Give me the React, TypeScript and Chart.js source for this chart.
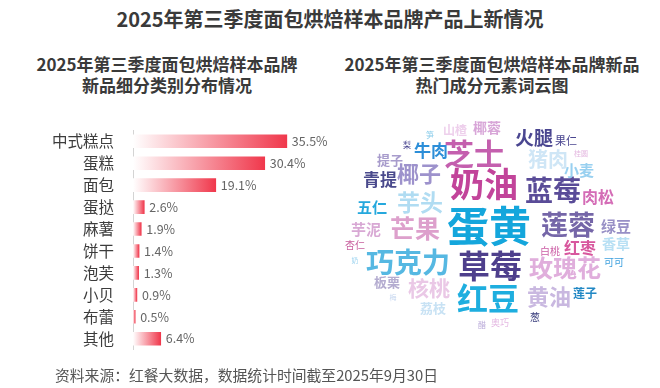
import React, { useEffect, useRef } from "react";
import { Chart, registerables } from "chart.js";
Chart.register(...registerables);

const FONT = '"Noto Sans CJK SC", "Noto Sans", sans-serif';

// Left chart data
const categories = ["中式糕点", "蛋糕", "面包", "蛋挞", "麻薯", "饼干", "泡芙", "小贝", "布蕾", "其他"];
const shares = [35.5, 30.4, 19.1, 2.6, 1.9, 1.4, 1.3, 0.9, 0.5, 6.4];

// Word cloud data (word, position, weight = font size)
const cloudWords = ["蛋黄", "奶油", "芝士", "草莓", "红豆", "蓝莓", "莲蓉", "玫瑰花", "黄油", "巧克力", "芒果", "芋头", "椰子", "牛肉", "火腿", "猪肉", "青提", "提子", "五仁", "芋泥", "杏仁", "奶", "板栗", "核桃", "梅", "荔枝", "山楂", "笋", "梨", "椰蓉", "果仁", "桂圆", "小麦", "肉松", "绿豆", "香草", "可可", "红枣", "白桃", "莲子", "葱", "奥巧", "醋"];
const cloudX = [489, 484, 474, 490, 488, 553, 568, 565, 549, 408, 415, 420, 419, 431, 534, 548, 380, 390, 372, 366, 355, 355, 387, 429, 393, 433, 455, 430, 407, 487, 566, 581, 579, 598, 616, 616, 614, 580, 550, 585, 535, 500, 482];
const cloudY = [226, 184, 154, 266, 298, 190, 225, 268, 297, 262, 228, 202, 174, 151, 138, 159, 180, 160, 207, 229, 245, 260, 282, 288, 297, 308, 130, 135, 145, 128, 141, 153, 170, 197, 226, 244, 262, 248, 251, 293, 317, 323, 325];
const cloudWeight = [42, 34, 30, 32, 31, 28, 27, 24, 22, 28, 25, 23, 22, 17, 19, 20, 17, 13, 15, 15, 10, 7, 13, 21, 7, 13, 12, 8, 8, 14, 11, 7, 15, 16, 15, 14, 10, 16, 10, 12, 10, 9, 8];
const cloudPalette = ["#14A6DC", "#C2449A", "#C45FAE", "#4E3F8C", "#1EAEDF", "#5A4C98", "#7566A8", "#E0AEDC", "#C9B8E0", "#56B8E2", "#DDA0CC", "#B0DCF2", "#9D92CC", "#2C8ED8", "#4A4690", "#CFE6F6", "#4A4A8C", "#A89CCC", "#25A8DD", "#D8A8D4", "#C8609E", "#9ED4F0", "#B4ACD0", "#EAC8E6", "#C8D8F0", "#C8E2F4", "#EED0EC", "#8CCDEB", "#4A4690", "#D8A6D8", "#4A4690", "#E4B8E0", "#98D0F0", "#D46CB6", "#9890C6", "#B8E0F4", "#3DA0DE", "#D8589E", "#CC5EA6", "#2288C4", "#383C7C", "#E4B8E2", "#B8A8D8"];

const barLabelPlugin = {
  id: "barLabels",
  afterDatasetsDraw(chart: any) {
    const { ctx } = chart;
    const meta = chart.getDatasetMeta(0);
    ctx.save();
    ctx.font = `12.5px ${FONT}`;
    ctx.fillStyle = "#666";
    ctx.textBaseline = "middle";
    ctx.textAlign = "left";
    meta.data.forEach((el: any, i: number) => {
      ctx.fillText(`${shares[i]}%`, el.x + 5, el.y);
    });
    ctx.restore();
  },
};

const cloudPlugin = {
  id: "cloudWords",
  afterDatasetsDraw(chart: any) {
    const { ctx } = chart;
    const meta = chart.getDatasetMeta(0);
    ctx.save();
    ctx.textBaseline = "middle";
    ctx.textAlign = "center";
    meta.data.forEach((el: any, i: number) => {
      const size = cloudWeight[i];
      ctx.font = `${size >= 12 ? "bold" : "normal"} ${size}px ${FONT}`;
      ctx.fillStyle = cloudPalette[i];
      ctx.fillText(cloudWords[i], el.x, el.y);
    });
    ctx.restore();
  },
};

export default function App() {
  const barRef = useRef<HTMLCanvasElement>(null);
  const cloudRef = useRef<HTMLCanvasElement>(null);

  useEffect(() => {
    document.body.style.margin = "0";
    const bar = new Chart(barRef.current as HTMLCanvasElement, {
      type: "bar",
      data: {
        labels: categories,
        datasets: [
          {
            data: shares,
            barThickness: 13,
            backgroundColor: (c: any) => {
              const chart = c.chart;
              const { ctx, chartArea, scales } = chart;
              if (!chartArea || c.dataIndex == null) return "#F0384C";
              const x0 = scales.x.getPixelForValue(0);
              const x1 = scales.x.getPixelForValue(shares[c.dataIndex]);
              const g = ctx.createLinearGradient(x0, 0, Math.max(x1, x0 + 1), 0);
              g.addColorStop(0, "rgba(255,255,255,1)");
              g.addColorStop(1, "#F0384C");
              return g;
            },
          },
        ],
      },
      options: {
        indexAxis: "y",
        responsive: false,
        animation: false,
        devicePixelRatio: 1,
        layout: { padding: { top: 10, bottom: 13, right: 12, left: 0 } },
        plugins: { legend: { display: false }, tooltip: { enabled: false } },
        scales: {
          x: { display: false, min: 0, max: 45 },
          y: {
            afterFit: (s: any) => {
              s.width = 133;
            },
            grid: { display: false },
            border: { display: true, color: "#d4d4d4", width: 1 },
            ticks: { color: "#3c3c3c", font: { size: 15.5, family: FONT }, padding: 11 },
          },
        },
      } as any,
      plugins: [barLabelPlugin],
    });

    const cloud = new Chart(cloudRef.current as HTMLCanvasElement, {
      type: "scatter",
      data: {
        datasets: [
          {
            data: cloudWords.map((_, i) => ({ x: cloudX[i], y: cloudY[i] })),
            pointRadius: 0,
          },
        ],
      },
      options: {
        responsive: false,
        animation: false,
        devicePixelRatio: 1,
        layout: { padding: 0 },
        plugins: { legend: { display: false }, tooltip: { enabled: false } },
        scales: {
          x: { type: "linear", display: false, min: 340, max: 660 },
          y: { type: "linear", display: false, min: 100, max: 340, reverse: true },
        },
      } as any,
      plugins: [cloudPlugin],
    });

    return () => {
      bar.destroy();
      cloud.destroy();
    };
  }, []);

  const titleStyle: React.CSSProperties = {
    position: "absolute",
    fontFamily: FONT,
    fontWeight: "bold",
    color: "#3a3a3a",
    textAlign: "center",
    whiteSpace: "nowrap",
  };

  return (
    <div style={{ position: "relative", width: 660, height: 388, background: "#fff", overflow: "hidden" }}>
      <div style={{ ...titleStyle, left: 0, width: 660, top: 6, fontSize: 20, lineHeight: "26px" }}>
        2025年第三季度面包烘焙样本品牌产品上新情况
      </div>
      <div style={{ ...titleStyle, left: 17, width: 300, top: 53, fontSize: 17, lineHeight: "21px" }}>
        2025年第三季度面包烘焙样本品牌
        <br />
        新品细分类别分布情况
      </div>
      <div style={{ ...titleStyle, left: 342, width: 300, top: 53, fontSize: 17, lineHeight: "21px" }}>
        2025年第三季度面包烘焙样本品牌新品
        <br />
        热门成分元素词云图
      </div>
      <canvas ref={barRef} width={340} height={260} style={{ position: "absolute", left: 0, top: 110 }} />
      <canvas ref={cloudRef} width={320} height={240} style={{ position: "absolute", left: 340, top: 100 }} />
      <div
        style={{
          position: "absolute",
          left: 55,
          top: 365,
          fontFamily: FONT,
          fontSize: 14.8,
          lineHeight: "20px",
          color: "#555",
          whiteSpace: "nowrap",
        }}
      >
        资料来源：红餐大数据，数据统计时间截至2025年9月30日
      </div>
    </div>
  );
}
